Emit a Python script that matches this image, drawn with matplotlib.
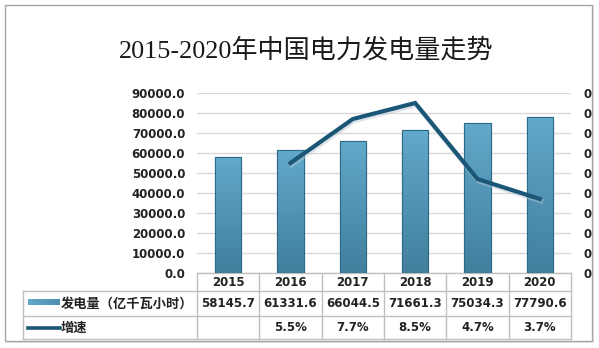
import numpy as np
import matplotlib
matplotlib.use("Agg")
import matplotlib.pyplot as plt
from matplotlib.lines import Line2D
from matplotlib.patches import Rectangle
from matplotlib.colors import LinearSegmentedColormap
from matplotlib.transforms import ScaledTranslation

years = ["2015", "2016", "2017", "2018", "2019", "2020"]
generation = [58145.7, 61331.6, 66044.5, 71661.3, 75034.3, 77790.6]  # 亿千瓦小时
growth_years = ["2016", "2017", "2018", "2019", "2020"]
growth_pct = [5.5, 7.7, 8.5, 4.7, 3.7]
left_ticks = [0, 10000, 20000, 30000, 40000, 50000, 60000, 70000, 80000, 90000]
right_ticks = [0, 0.01, 0.02, 0.03, 0.04, 0.05, 0.06, 0.07, 0.08, 0.09]

title = "2015-2020年中国电力发电量走势"
series_bar = "发电量（亿千瓦小时）"
series_line = "增速"

W, H = 599, 348
fig = plt.figure(figsize=(W / 100, H / 100), dpi=100)
fig.patch.set_facecolor("white")


def fx(x):
    return x / W


def fy(y):
    return 1 - y / H


bar_top = "#62A9CB"
bar_bot = "#417F9D"
bar_edge = "#2E6A88"
line_col = "#1B5676"
grid_col = "#D9D9D9"
table_col = "#BFBFBF"
num_font = ["DejaVu Sans", "Noto Sans CJK SC"]
cjk_font = ["Noto Sans CJK SC", "DejaVu Sans"]

# outer frame with a light shadow
fig.add_artist(Rectangle((fx(7), fy(343)), fx(587), 338 / H,
                         transform=fig.transFigure, facecolor="#E6E6E6",
                         edgecolor="none", zorder=0))
fig.add_artist(Rectangle((fx(5), fy(341)), fx(587), 336 / H,
                         transform=fig.transFigure, facecolor="white",
                         edgecolor="#A6A6A6", lw=1.0, zorder=0.5))

fig.text(fx(306), fy(50), title, ha="center", va="center", fontsize=18.8,
         family=["Liberation Serif", "Noto Sans CJK SC"], color="#1a1a1a")

# plot area
x0, x1, yb, yt = 197, 571, 273, 93
ax = fig.add_axes([fx(x0), fy(yb), (x1 - x0) / W, (yb - yt) / H])
ax.set_zorder(2)
ax.patch.set_alpha(0)
x = np.arange(len(years))
ax.set_yticks(left_ticks)
ax.set_yticklabels([f"{v:.1f}" for v in left_ticks], fontsize=8.5,
                   fontweight="bold", family=num_font, color="#222222")
ax.tick_params(axis="y", length=0, pad=8.5)
ax.set_xticks([])
ax.yaxis.grid(True, color=grid_col, lw=1.0)
ax.set_axisbelow(True)
for s in ax.spines.values():
    s.set_visible(False)

cmap = LinearSegmentedColormap.from_list("barfill", [bar_bot, bar_top])
grad = np.linspace(0, 1, 256).reshape(-1, 1)
bw = 0.42
bars = ax.bar(x, generation, width=bw, color=bar_top, edgecolor=bar_edge,
              lw=0.8, zorder=3)
for b in bars:
    bx, by = b.get_x(), b.get_y()
    bh = b.get_height()
    im = ax.imshow(grad, extent=[bx, bx + b.get_width(), by, by + bh],
                   origin="lower", aspect="auto", cmap=cmap, zorder=3.5)
    im.set_clip_path(b)
    ax.add_patch(Rectangle((bx, by), b.get_width(), bh, fill=False,
                           edgecolor=bar_edge, lw=0.8, zorder=3.6))
ax.set_xlim(-0.5, len(years) - 0.5)
ax.set_ylim(left_ticks[0], left_ticks[-1])

ax2 = ax.twinx()
ax2.set_zorder(3)
ax2.set_ylim(right_ticks[0], right_ticks[-1])
ax2.set_yticks(right_ticks)
ax2.set_yticklabels(["0"] * len(right_ticks), fontsize=8.5, fontweight="bold",
                    family=num_font, color="#222222")
ax2.tick_params(axis="y", length=0, pad=9)
for s in ax2.spines.values():
    s.set_visible(False)
gx = [years.index(y) for y in growth_years]
gy = [v / 100 for v in growth_pct]
ax2.plot(gx, gy, color="#B5C7D2", lw=3.4, alpha=0.45, zorder=4,
         transform=ax2.transData + ScaledTranslation(
             1 / 100, -2 / 100, fig.dpi_scale_trans))
ax2.plot(gx, gy, color=line_col, lw=3.0, solid_joinstyle="miter", zorder=5)

# data table under the plot
col_w = (x1 - x0) / len(years)
cols = [x0 + i * col_w for i in range(len(years) + 1)]
tl = 23
r0, r1, r2, r3 = 273, 291, 316, 339


def hline(y, xa, xb):
    fig.add_artist(Line2D([fx(xa), fx(xb)], [fy(y), fy(y)], color=table_col,
                          lw=1.0, transform=fig.transFigure, zorder=1))


def vline(xv, ya, yb_):
    fig.add_artist(Line2D([fx(xv), fx(xv)], [fy(ya), fy(yb_)], color=table_col,
                          lw=1.0, transform=fig.transFigure, zorder=1))


hline(r0, x0, x1)
for yy in (r1, r2, r3):
    hline(yy, tl, x1)
for cx in cols:
    vline(cx, r0, r3)
vline(tl, r1, r3)

ry0, ry1, ry2 = (r0 + r1) / 2 + 0.5, (r1 + r2) / 2, (r2 + r3) / 2
for i, yr in enumerate(years):
    cxm = (cols[i] + cols[i + 1]) / 2
    fig.text(fx(cxm), fy(ry0), yr, ha="center", va="center", fontsize=8.5,
             fontweight="bold", family=num_font, color="#222222")
    fig.text(fx(cxm), fy(ry1), f"{generation[i]:.1f}", ha="center",
             va="center", fontsize=8.5, fontweight="bold", family=num_font,
             color="#222222")
for yr, g in zip(growth_years, growth_pct):
    i = years.index(yr)
    cxm = (cols[i] + cols[i + 1]) / 2
    fig.text(fx(cxm), fy(ry2), f"{g:.1f}%", ha="center", va="center",
             fontsize=8.5, fontweight="bold", family=num_font, color="#222222")

# legend keys inside the table
key = fig.add_axes([fx(28), fy(305), fx(60) - fx(28), 6 / H])
key.set_zorder(2)
key.imshow(grad.T, cmap=LinearSegmentedColormap.from_list(
    "keyfill", [bar_top, "#4E8EAE"]), aspect="auto")
key.set_axis_off()
fig.add_artist(Line2D([fx(28), fx(60)], [fy(ry2), fy(ry2)], color=line_col,
                      lw=2.6, transform=fig.transFigure, zorder=2))
fig.text(fx(61), fy(ry1), series_bar, ha="left", va="center", fontsize=9.5,
         fontweight="bold", family=cjk_font, color="#222222")
fig.text(fx(61), fy(ry2), series_line, ha="left", va="center", fontsize=9.5,
         fontweight="bold", family=cjk_font, color="#222222")

fig.savefig("out.png", dpi=100, facecolor="white")
